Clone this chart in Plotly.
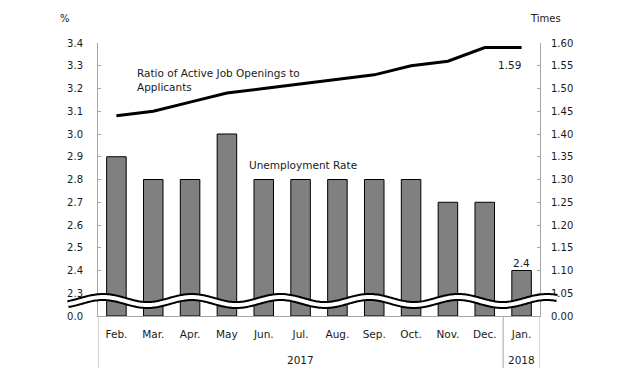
import numpy as np
import plotly.graph_objects as go

months = ["Feb.", "Mar.", "Apr.", "May", "Jun.", "Jul.", "Aug.", "Sep.", "Oct.", "Nov.", "Dec.", "Jan."]
unemployment = [2.9, 2.8, 2.8, 3.0, 2.8, 2.8, 2.8, 2.8, 2.8, 2.7, 2.7, 2.4]
job_ratio = [1.44, 1.45, 1.47, 1.49, 1.50, 1.51, 1.52, 1.53, 1.55, 1.56, 1.59, 1.59]
left_tickvals = [2.2, 2.3, 2.4, 2.5, 2.6, 2.7, 2.8, 2.9, 3.0, 3.1, 3.2, 3.3, 3.4]
left_ticktext = ["0.0", "2.3", "2.4", "2.5", "2.6", "2.7", "2.8", "2.9", "3.0", "3.1", "3.2", "3.3", "3.4"]
right_tickvals = [1.00, 1.05, 1.10, 1.15, 1.20, 1.25, 1.30, 1.35, 1.40, 1.45, 1.50, 1.55, 1.60]
right_ticktext = ["0.00", "1.05", "1.10", "1.15", "1.20", "1.25", "1.30", "1.35", "1.40", "1.45", "1.50", "1.55", "1.60"]

FONT = "DejaVu Sans"
TXT = "#1a1a1a"
AX = "#a6a6a6"

# page body has an 8px margin; screen coordinates are used below
OFF = 8
W, H = 641 - 2 * OFF, 376 - 2 * OFF
X0, X1, Y0, Y1 = 98, 540, 43, 316   # plot area on screen
L, R, T, B = X0 - OFF, W - (X1 - OFF), Y0 - OFF, H - (Y1 - OFF)
pw, ph = X1 - X0, Y1 - Y0

def px(x):
    return (x - X0) / pw

def py(y):
    return (Y1 - y) / ph

fig = go.Figure()
fig.add_trace(go.Bar(x=list(range(12)), y=[v - 2.2 for v in unemployment], base=2.2,
                     marker=dict(color="#808080", line=dict(color="black", width=1)),
                     width=0.53, yaxis="y", showlegend=False, hoverinfo="skip"))
fig.add_trace(go.Scatter(x=list(range(12)), y=job_ratio, mode="lines",
                         line=dict(color="black", width=3), yaxis="y2", showlegend=False))

# axis break wave (decoration)
xs = np.arange(68, 558, 1.5)
ys = 301 - 4 * np.cos(2 * np.pi * (xs - 103) / 88.8)
path = "M " + " L ".join(f"{px(x):.5f},{py(y):.5f}" for x, y in zip(xs, ys))

shapes = [
    dict(type="path", path=path, xref="paper", yref="paper", line=dict(color="black", width=8), layer="above"),
    dict(type="path", path=path, xref="paper", yref="paper", line=dict(color="white", width=4), layer="above"),
]
for xv in [-0.5, 10.5, 11.5]:
    shapes.append(dict(type="line", xref="x", yref="paper", x0=xv, x1=xv, y0=0, y1=-52 / ph,
                       line=dict(color=AX, width=1)))

def ann(text, x, y, xref="paper", yref="paper", **kw):
    d = dict(text=text, x=x, y=y, xref=xref, yref=yref, showarrow=False,
             xanchor="center", yanchor="middle",
             font=dict(family=FONT, size=kw.pop("size", 10.5), color=TXT))
    d.update(kw)
    return d

annotations = [
    ann("%", px(65), py(18), size=10),
    ann("Times", px(545), py(18), size=10),
    ann("Ratio of Active Job Openings to<br>Applicants", px(135), py(80),
        xanchor="left", align="left"),
    ann("Unemployment Rate", px(247), py(165), xanchor="left"),
    ann("1.59", 10.66, 1.59, xref="x", yref="y2", yanchor="top", yshift=-9),
    ann("2.4", 11, 2.4, xref="x", yref="y", yanchor="bottom"),
    ann("2017", 5, py(360), xref="x"),
    ann("2018", 11, py(360), xref="x"),
]

fig.update_layout(
    width=W, height=H,
    margin=dict(l=L, r=R, t=T, b=B, pad=0),
    paper_bgcolor="white", plot_bgcolor="white",
    font=dict(family=FONT, size=10, color=TXT),
    xaxis=dict(range=[-0.5, 11.5], tickmode="array", tickvals=list(range(12)), ticktext=months,
               showgrid=False, zeroline=False, showline=True, linecolor=AX, linewidth=1,
               ticks="", ticklabelstandoff=8, tickfont=dict(size=10.5, family=FONT, color=TXT),
               fixedrange=True),
    yaxis=dict(range=[2.2, 3.4], tickmode="array", tickvals=left_tickvals, ticktext=left_ticktext,
               showgrid=False, zeroline=False, showline=True, linecolor=AX, linewidth=1,
               ticks="inside", ticklen=3, tickcolor=AX, ticklabelstandoff=12,
               tickfont=dict(size=10, family=FONT, color=TXT)),
    yaxis2=dict(range=[1.0, 1.6], overlaying="y", side="right", tickmode="array",
                tickvals=right_tickvals, ticktext=right_ticktext,
                showgrid=False, zeroline=False, showline=True, linecolor=AX, linewidth=1,
                ticks="inside", ticklen=3, tickcolor=AX, ticklabelstandoff=8,
                tickfont=dict(size=10, family=FONT, color=TXT)),
    shapes=shapes, annotations=annotations, bargap=0.47,
)

fig.write_html("out.html")
